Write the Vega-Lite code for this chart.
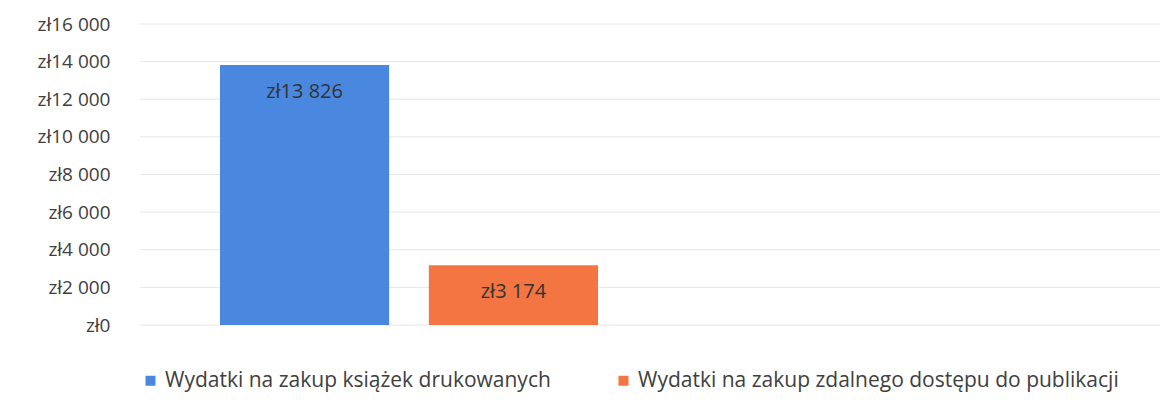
{
  "$schema": "https://vega.github.io/schema/vega-lite/v6.json",
  "width": 1020,
  "height": 301,
  "autosize": "none",
  "padding": {"left": 140, "top": 24, "right": 13, "bottom": 82},
  "config": {
    "locale": {"number": {"decimal": ",", "thousands": " ", "grouping": [3], "currency": ["zł", ""]}},
    "view": {"stroke": null},
    "font": "Open Sans",
    "axisY": {"labelOverlap": false}
  },
  "datasets": {
    "spending": [
      {"series": "Wydatki na zakup książek drukowanych", "value": 13826},
      {"series": "Wydatki na zakup zdalnego dostępu do publikacji", "value": 3174}
    ],
    "gridlines": [
      {"value": 0}, {"value": 2000}, {"value": 4000}, {"value": 6000}, {"value": 8000},
      {"value": 10000}, {"value": 12000}, {"value": 14000}, {"value": 16000}
    ]
  },
  "layer": [
    {
      "data": {"name": "gridlines"},
      "mark": {"type": "rule", "color": "#e6e6e6", "strokeWidth": 1},
      "encoding": {
        "y": {
          "field": "value",
          "type": "quantitative",
          "scale": {"domain": [0, 16000]},
          "axis": {
            "values": [0, 2000, 4000, 6000, 8000, 10000, 12000, 14000, 16000],
            "format": "$,.0f",
            "domain": false,
            "ticks": false,
            "grid": false,
            "labelOverlap": false,
            "labelPadding": 30,
            "labelFontSize": 19,
            "labelColor": "#404040",
            "title": null
          }
        }
      }
    },
    {
      "data": {"name": "spending"},
      "encoding": {
        "x": {
          "field": "series",
          "type": "nominal",
          "sort": null,
          "axis": null,
          "scale": {"range": [80, 458], "paddingInner": 0.19, "paddingOuter": 0}
        },
        "y": {
          "field": "value",
          "type": "quantitative",
          "axis": {
            "values": [0, 2000, 4000, 6000, 8000, 10000, 12000, 14000, 16000],
            "format": "$,.0f",
            "domain": false,
            "ticks": false,
            "grid": false,
            "labelOverlap": false,
            "labelPadding": 30,
            "labelFontSize": 19,
            "labelColor": "#404040",
            "title": null
          }
        }
      },
      "layer": [
        {
          "mark": {"type": "bar"},
          "encoding": {
            "color": {
              "field": "series",
              "type": "nominal",
              "sort": null,
              "scale": {"range": ["#4a88e0", "#f27542"]},
              "legend": {
                "orient": "bottom",
                "direction": "horizontal",
                "title": null,
                "symbolType": "square",
                "symbolSize": 100,
                "symbolStrokeWidth": 0,
                "labelFontSize": 21,
                "labelColor": "#404040",
                "columnPadding": 62,
                "offset": 45,
                "labelLimit": 600
              }
            }
          }
        },
        {
          "mark": {"type": "text", "dy": 27, "fontSize": 20, "color": "#333333"},
          "encoding": {
            "text": {"field": "value", "type": "quantitative", "format": "$,.0f"}
          }
        }
      ]
    }
  ]
}
